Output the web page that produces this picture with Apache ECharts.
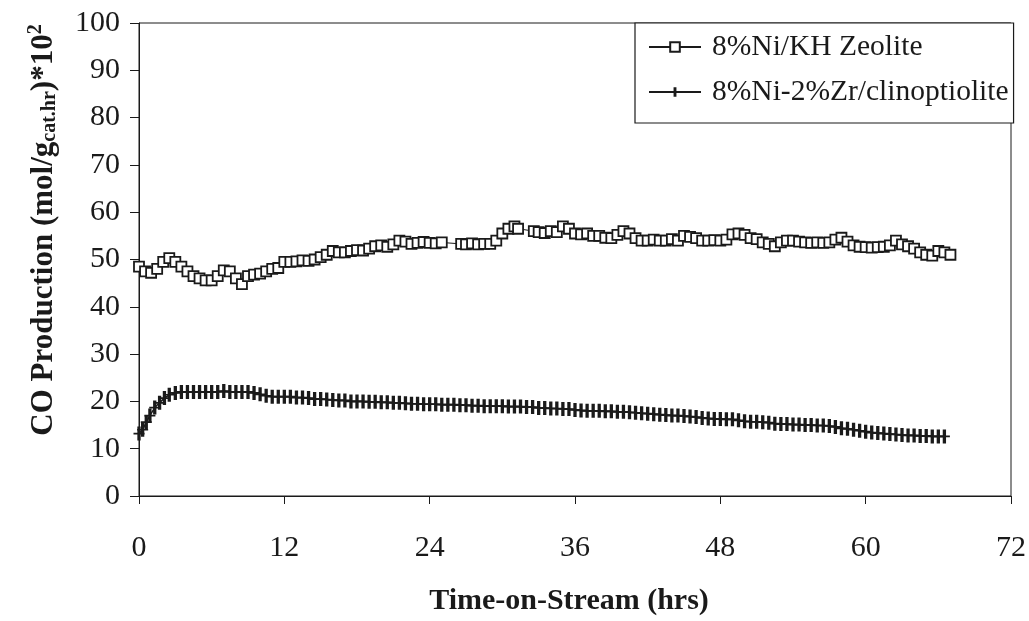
<!DOCTYPE html>
<html>
<head>
<meta charset="utf-8">
<script src="https://cdn.jsdelivr.net/npm/echarts@6/dist/echarts.min.js"></script>
<style>
html,body{margin:0;padding:0;background:#fff;}
#chart{width:1029px;height:621px;}
</style>
</head>
<body>
<div id="chart"></div>
<script>
// ---- DATA ----
var xTicks = [0, 12, 24, 36, 48, 60, 72];
var yTicks = [0, 10, 20, 30, 40, 50, 60, 70, 80, 90, 100];
var seriesNames = ['8%Ni/KH Zeolite', '8%Ni-2%Zr/clinoptiolite'];

// [time (hrs), CO production] for 8%Ni/KH Zeolite
var niKH = [
  [0,48.5],[0.5,47.5],[1,47.2],[1.5,48],[2,49.5],[2.5,50.3],[3,49.5],[3.5,48.5],[4,47.5],[4.5,46.5],
  [5,46],[5.5,45.6],[6,45.6],[6.5,46.5],[7,47.7],[7.5,47.5],[8,46],[8.5,44.8],[9,46.5],[9.5,46.8],
  [10,47],[10.5,47.5],[11,48],[11.5,48.2],[12,49.5],[12.5,49.5],[13,49.6],[13.5,49.8],[14,49.7],[14.5,50],
  [15,50.5],[15.5,51],[16,51.8],[16.5,51.5],[17,51.5],[17.5,51.8],[18,52],[18.5,51.9],[19,52.3],[19.5,52.8],
  [20,53],[20.5,52.7],[21,53.2],[21.5,54],[22,53.8],[22.5,53.3],[23,53.5],[23.5,53.7],[24,53.5],[24.5,53.4],
  [25,53.6],[26.6,53.3],[27,53.2],[27.5,53.4],[28,53.2],[28.5,53.3],[29,53.3],[29.5,54],[30,55.5],[30.5,56.5],
  [31,57],[31.3,56.5],[32.6,56],[33,55.8],[33.5,55.6],[34,56],[34.5,55.8],[35,57],[35.5,56.5],[36,55.5],
  [36.5,55.3],[37,55.5],[37.5,55],[38,55],[38.5,54.6],[39,54.5],[39.5,55.2],[40,56],[40.5,55.5],[41,54.5],
  [41.5,54],[42,54],[42.5,54.2],[43,54],[43.5,54],[44,54.3],[44.5,54],[45,55],[45.5,54.8],[46,54.5],
  [46.5,54],[47,54],[47.5,54.1],[48,54],[48.5,54.2],[49,55.3],[49.5,55.5],[50,55.2],[50.5,54.5],[51,54.3],
  [51.5,53.6],[52,53.3],[52.5,52.8],[53,53.6],[53.5,54],[54,54],[54.5,53.8],[55,53.6],[55.5,53.5],[56,53.6],
  [56.5,53.5],[57,53.6],[57.5,54.2],[58,54.6],[58.5,53.8],[59,53],[59.5,52.7],[60,52.6],[60.5,52.5],[61,52.6],
  [61.5,52.7],[62,53],[62.5,54],[63,53.2],[63.5,52.8],[64,52.3],[64.5,51.5],[65,51],[65.5,50.8],[66,51.8],
  [66.5,51.5],[67,51]
];

// [time (hrs), CO production] for 8%Ni-2%Zr/clinoptiolite
var niZr = [
  [0,13.2],[0.3,14],[0.6,15.6],[0.9,17],[1.3,18.7],[1.7,19.7],[2.1,20.7],[2.5,21.4],[3,21.8],[3.5,22],
  [4,22],[4.5,22],[5,22],[5.5,22],[6,22],[6.5,22],[7,22.2],[7.5,22],[8,22],[8.5,22],
  [9,22],[9.5,21.8],[10,21.5],[10.5,21.2],[11,21],[11.5,21],[12,21],[12.5,21],[13,20.8],[13.5,20.8],
  [14,20.7],[14.5,20.5],[15,20.5],[15.5,20.4],[16,20.3],[16.5,20.2],[17,20.2],[17.5,20],[18,20],[18.5,20],
  [19,19.9],[19.5,19.9],[20,19.8],[20.5,19.8],[21,19.7],[21.5,19.7],[22,19.6],[22.5,19.5],[23,19.5],[23.5,19.4],
  [24,19.4],[24.5,19.4],[25,19.3],[25.5,19.3],[26,19.3],[26.5,19.2],[27,19.2],[27.5,19.1],[28,19.1],[28.5,19],
  [29,19],[29.5,19],[30,19],[30.5,18.9],[31,18.9],[31.5,18.9],[32,18.8],[32.5,18.8],[33,18.6],[33.5,18.6],
  [34,18.5],[34.5,18.5],[35,18.4],[35.5,18.4],[36,18.2],[36.5,18.1],[37,18],[37.5,18],[38,18],[38.5,17.9],
  [39,17.9],[39.5,17.8],[40,17.8],[40.5,17.7],[41,17.6],[41.5,17.5],[42,17.4],[42.5,17.3],[43,17.2],[43.5,17.1],
  [44,17],[44.5,17],[45,16.9],[45.5,16.8],[46,16.7],[46.5,16.5],[47,16.4],[47.5,16.3],[48,16.3],[48.5,16.2],
  [49,16.2],[49.5,16],[50,15.8],[50.5,15.7],[51,15.7],[51.5,15.6],[52,15.5],[52.5,15.3],[53,15.2],[53.5,15.2],
  [54,15.1],[54.5,15.1],[55,15],[55.5,15],[56,14.9],[56.5,14.9],[57,14.8],[57.5,14.6],[58,14.3],[58.5,14.2],
  [59,14],[59.5,13.8],[60,13.6],[60.5,13.4],[61,13.3],[61.5,13.2],[62,13.1],[62.5,13],[63,12.9],[63.5,12.8],
  [64,12.8],[64.5,12.7],[65,12.7],[65.5,12.6],[66,12.6],[66.5,12.6]
];

// ---- CHART ----
var serif = '"Liberation Serif", "Times New Roman", serif';
var ink = '#1a1a1a';
var plusPath = 'path://M3.5,0h3v10h-3z M0,4.4h10v1.2h-10z';

var chart = echarts.init(document.getElementById('chart'), null, {renderer: 'canvas'});
chart.setOption({
  animation: false,
  backgroundColor: '#fff',
  grid: {left: 139, right: 17, top: 23, bottom: 116, show: true, borderColor: ink, borderWidth: 1, backgroundColor: 'transparent'},
  xAxis: {
    type: 'value', min: xTicks[0], max: xTicks[xTicks.length - 1], interval: 12,
    name: 'Time-on-Stream (hrs)', nameLocation: 'middle', nameGap: 90,
    nameTextStyle: {fontFamily: serif, fontWeight: 'bold', fontSize: 30, color: ink, padding: [0, 12, 0, 0]},
    axisLine: {lineStyle: {color: ink, width: 1}},
    axisTick: {show: true, inside: false, length: 8, lineStyle: {color: ink}},
    axisLabel: {margin: 37, fontFamily: serif, fontSize: 30, color: ink},
    splitLine: {show: false}
  },
  yAxis: {
    type: 'value', min: yTicks[0], max: yTicks[yTicks.length - 1], interval: 10,
    axisLine: {show: true, lineStyle: {color: ink, width: 1}},
    axisTick: {show: true, inside: false, length: 9, lineStyle: {color: ink}},
    axisLabel: {margin: 19, fontFamily: serif, fontSize: 30, color: ink},
    splitLine: {show: false}
  },
  legend: {
    orient: 'vertical', left: 635, top: 23,
    padding: [9, 5, 16, 13], itemGap: 15, itemWidth: 52, itemHeight: 12,
    backgroundColor: '#fff', borderColor: ink, borderWidth: 1.2,
    textStyle: {fontFamily: serif, fontSize: 29.5, color: ink, padding: [0, 0, 0, 6]},
    data: seriesNames
  },
  graphic: [{
    type: 'text', x: 44, y: 230, rotation: Math.PI / 2,
    style: {
      text: '{a|CO Production (mol/g}{s|cat.hr}{a|)*10}{p|2}',
      align: 'center', verticalAlign: 'middle',
      rich: {
        a: {fontFamily: serif, fontWeight: 'bold', fontSize: 31, fill: ink, verticalAlign: 'middle'},
        s: {fontFamily: serif, fontWeight: 'bold', fontSize: 20, fill: ink, padding: [12, 0, 0, 0]},
        p: {fontFamily: serif, fontWeight: 'bold', fontSize: 20, fill: ink, padding: [0, 0, 16, 0]}
      }
    }
  }],
  series: [{
    name: seriesNames[0], type: 'line', data: niKH,
    symbol: 'rect', symbolSize: 10,
    lineStyle: {color: ink, width: 1},
    itemStyle: {color: '#fff', borderColor: ink, borderWidth: 1.8}
  }, {
    name: seriesNames[1], type: 'line', data: niZr,
    symbol: plusPath, symbolSize: [11, 14],
    lineStyle: {color: ink, width: 1.5},
    itemStyle: {color: ink}
  }]
});
</script>
</body>
</html>
